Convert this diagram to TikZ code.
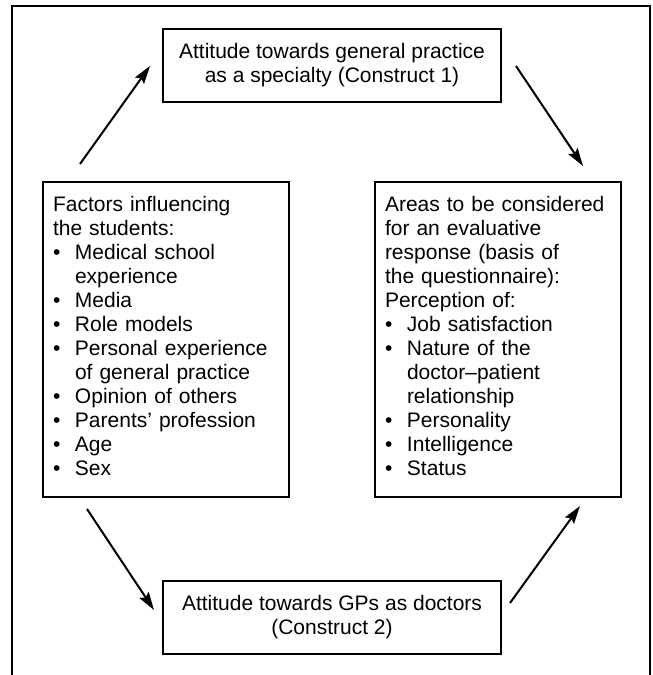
\documentclass[tikz,border=0pt]{standalone}
\usepackage{fontspec}
\setmainfont{Liberation Sans}
\usetikzlibrary{arrows.meta}
\begin{document}
\begin{tikzpicture}[x=1pt,y=-1pt,
  txt/.style={font=\fontsize{21}{24}\selectfont},
  box/.style={draw, line width=2pt, txt, inner sep=0pt},
  sidebox/.style={box, text width=226pt, inner xsep=10pt, inner ysep=0pt, align=left, anchor=north west},
  cbox/.style={box, minimum width=338pt, minimum height=73pt, align=center},
  arr/.style={line width=2pt, -{Stealth[length=18pt,width=11pt,inset=3pt]}}
]
\useasboundingbox (0,0) rectangle (653,675);
\draw[line width=2.5pt] (12,677) -- (12,6) -- (650,6) -- (650,677);

\node[cbox] (top) at (332,65.5) {Attitude towards general practice\\as a specialty (Construct 1)};
\node[cbox] (bot) at (332,617.5) {Attitude towards GPs as doctors\\(Construct 2)};

\node[sidebox] (left) at (42,181) {\rule{0pt}{29pt}Factors influencing\\
the students:\\
\makebox[22pt][l]{•}Medical school\\
\hspace*{22pt}experience\\
\makebox[22pt][l]{•}Media\\
\makebox[22pt][l]{•}Role models\\
\makebox[22pt][l]{•}Personal experience\\
\hspace*{22pt}of general practice\\
\makebox[22pt][l]{•}Opinion of others\\
\makebox[22pt][l]{•}Parents’ profession\\
\makebox[22pt][l]{•}Age\\
\makebox[22pt][l]{•}Sex\rule[-22pt]{0pt}{22pt}};

\node[sidebox] (right) at (374,181) {\rule{0pt}{29pt}Areas to be considered\\
for an evaluative\\
response (basis of\\
the questionnaire):\\
Perception of:\\
\makebox[22pt][l]{•}Job satisfaction\\
\makebox[22pt][l]{•}Nature of the\\
\hspace*{22pt}doctor–patient\\
\hspace*{22pt}relationship\\
\makebox[22pt][l]{•}Personality\\
\makebox[22pt][l]{•}Intelligence\\
\makebox[22pt][l]{•}Status\rule[-22pt]{0pt}{22pt}};

\coordinate (tlS) at (80,164);
\coordinate (tlE) at (150,66);
\coordinate (trS) at (516,66);
\coordinate (trE) at (583,166);
\coordinate (blS) at (87,509);
\coordinate (blE) at (154,610);
\coordinate (brS) at (510,603);
\coordinate (brE) at (580,506);

\draw[arr] (tlS) -- (tlE);
\draw[arr] (trS) -- (trE);
\draw[arr] (blS) -- (blE);
\draw[arr] (brS) -- (brE);
\end{tikzpicture}
\end{document}
